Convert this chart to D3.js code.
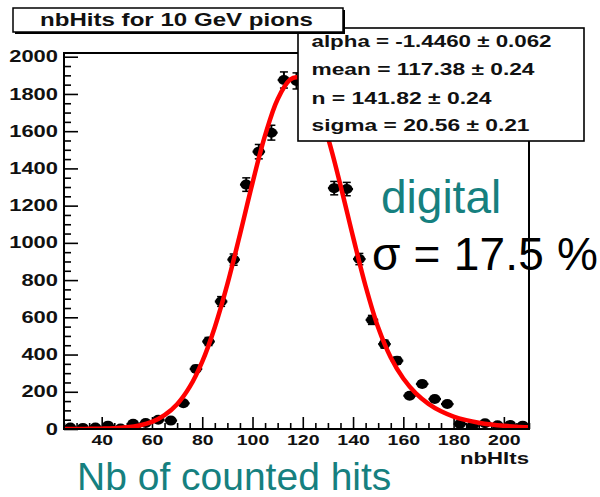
<!DOCTYPE html>
<html>
<head>
<meta charset="utf-8">
<script src="https://cdn.jsdelivr.net/npm/d3@7"></script>
<style>
  html, body { margin: 0; padding: 0; background: #fff; }
  svg { display: block; }
  text { font-family: "Liberation Sans", Arial, sans-serif; }
</style>
</head>
<body>
<svg id="chart" width="600" height="497"></svg>
<script>
// ---------------- data ----------------
const title = "nbHits for 10 GeV pions";
const xAxisLabel = "nbHIts";
const binCenters = [27.5, 32.5, 37.5, 42.5, 47.5, 52.5, 57.5, 62.5, 67.5, 72.5,
  77.5, 82.5, 87.5, 92.5, 97.5, 102.5, 107.5, 112.5, 117.5, 122.5,
  127.5, 132.5, 137.5, 142.5, 147.5, 152.5, 157.5, 162.5, 167.5, 172.5,
  177.5, 182.5, 187.5, 192.5, 197.5, 202.5, 207.5];
const counts = [8, 6, 8, 18, 3, 28, 32, 50, 45, 138,
  323, 470, 685, 910, 1313, 1490, 1592, 1875, 1870, 1860,
  1700, 1294, 1289, 913, 586, 456, 367, 179, 242, 161,
  134, 27, 16, 31, 20, 22, 18];
const fitX = [25, 30, 35, 40, 45, 50, 55, 60, 65, 70, 75, 80, 85, 90, 95, 100, 105, 110, 115, 117.5,
  120, 125, 130, 135, 140, 145, 150, 155, 160, 165, 170, 175, 180, 185, 190, 195, 200, 205, 210];
const fitY = [0, 0, 1, 2, 4, 9, 19, 38, 74, 133, 226, 362, 547, 778, 1045, 1322, 1577, 1772, 1877, 1890,
  1875, 1765, 1565, 1309, 1032, 767, 545, 384, 271, 191, 135, 95, 67, 48, 34, 24, 17, 12, 9];
const statsLines = ["alpha = -1.4460 \u00b1 0.062", "mean =  117.38 \u00b1 0.24",
  "n =  141.82 \u00b1 0.24", "sigma =  20.56 \u00b1 0.21"];
const xTicksMajor = [40, 60, 80, 100, 120, 140, 160, 180, 200];
const yTicksMajor = [0, 200, 400, 600, 800, 1000, 1200, 1400, 1600, 1800, 2000];
const binWidth = 5;
const annotDigital = "digital";
const annotSigma = "\u03c3 = 17.5 %";
const annotAxis = "Nb of counted hits";

// ---------------- layout ----------------
const svg = d3.select("#chart");
const L = 64, R = 529, T = 53, B = 429;
const x = d3.scaleLinear().domain([25, 210]).range([L, R]);
const y = d3.scaleLinear().domain([0, 2020]).range([B, T]);
const teal = "#16807f";

svg.append("rect").attr("width", 600).attr("height", 497).attr("fill", "#fff");

svg.append("defs").append("clipPath").attr("id", "plotclip")
  .append("rect").attr("x", L).attr("y", T).attr("width", R - L).attr("height", B - T);

// minor ticks
const xMinor = d3.range(25, 211, 5).filter(v => xTicksMajor.indexOf(v) < 0);
const yMinor = d3.range(0, 2001, 50).filter(v => yTicksMajor.indexOf(v) < 0);

const gxMinor = svg.append("g").attr("transform", `translate(0,${B})`)
  .call(d3.axisBottom(x).tickValues(xMinor).tickSize(-6).tickFormat(""));
const gx = svg.append("g").attr("transform", `translate(0,${B})`)
  .call(d3.axisBottom(x).tickValues(xTicksMajor).tickSize(-12).tickPadding(5.5).tickFormat(d3.format("d")));
const gyMinor = svg.append("g").attr("transform", `translate(${L},0)`)
  .call(d3.axisLeft(y).tickValues(yMinor).tickSize(-7).tickFormat(""));
const gy = svg.append("g").attr("transform", `translate(${L},0)`)
  .call(d3.axisLeft(y).tickValues(yTicksMajor).tickSize(-14).tickPadding(4.4).tickFormat(d3.format("d")));

[gxMinor, gx, gyMinor, gy].forEach(g => {
  g.select(".domain").remove();
  g.selectAll("line").attr("stroke", "#000").attr("stroke-width", 1.6);
});
gx.selectAll("text").attr("font-size", 15).attr("font-weight", "bold").attr("fill", "#111")
  .attr("font-family", "Liberation Sans, Arial, sans-serif")
  .attr("transform", "scale(1.3,1)");
gy.selectAll("text").attr("font-size", 16).attr("font-weight", "bold").attr("fill", "#111")
  .attr("font-family", "Liberation Sans, Arial, sans-serif")
  .attr("transform", "scale(1.37,1)");

// data points with error bars
const pts = svg.append("g").attr("clip-path", "url(#plotclip)");
const data = binCenters.map((c, i) => ({ c, v: counts[i] }));
const pg = pts.selectAll("g.pt").data(data).join("g").attr("class", "pt");
pg.append("line")
  .attr("x1", d => x(d.c - binWidth / 2)).attr("x2", d => x(d.c + binWidth / 2))
  .attr("y1", d => y(d.v)).attr("y2", d => y(d.v))
  .attr("stroke", "#000").attr("stroke-width", 2.2);
pg.append("line")
  .attr("x1", d => x(d.c)).attr("x2", d => x(d.c))
  .attr("y1", d => y(d.v + Math.sqrt(d.v))).attr("y2", d => y(d.v - Math.sqrt(d.v)))
  .attr("stroke", "#000").attr("stroke-width", 2);
pg.filter(d => d.v > 100).append("line")
  .attr("x1", d => x(d.c) - 4).attr("x2", d => x(d.c) + 4)
  .attr("y1", d => y(d.v + Math.sqrt(d.v))).attr("y2", d => y(d.v + Math.sqrt(d.v)))
  .attr("stroke", "#000").attr("stroke-width", 1.5);
pg.filter(d => d.v > 100).append("line")
  .attr("x1", d => x(d.c) - 4).attr("x2", d => x(d.c) + 4)
  .attr("y1", d => y(d.v - Math.sqrt(d.v))).attr("y2", d => y(d.v - Math.sqrt(d.v)))
  .attr("stroke", "#000").attr("stroke-width", 1.5);
pg.append("ellipse")
  .attr("cx", d => x(d.c)).attr("cy", d => y(d.v))
  .attr("rx", 5.8).attr("ry", 5).attr("fill", "#000");

// fit curve
const fitData = fitX.map((v, i) => [v, fitY[i]]);
svg.append("path").datum(fitData)
  .attr("clip-path", "url(#plotclip)")
  .attr("d", d3.line().x(d => x(d[0])).y(d => y(d[1])).curve(d3.curveCatmullRom.alpha(0.5)))
  .attr("fill", "none").attr("stroke", "#ff0000").attr("stroke-width", 4.5);

// frame
svg.append("rect").attr("x", L).attr("y", T).attr("width", R - L).attr("height", B - T)
  .attr("fill", "none").attr("stroke", "#000").attr("stroke-width", 2);

// x axis title
svg.append("text").attr("transform", `translate(${R},464) scale(1.386,1)`)
  .attr("text-anchor", "end").attr("font-size", 16).attr("font-weight", "bold").attr("fill", "#111")
  .text(xAxisLabel);

// stats box
svg.append("rect").attr("x", 298).attr("y", 28).attr("width", 286).attr("height", 113)
  .attr("fill", "#fff").attr("stroke", "#000").attr("stroke-width", 1.6);
const statsBase = [47, 75, 103.5, 130.5];
const statsLen = [240, 223, 180, 218];
statsLines.forEach((s, i) => {
  svg.append("text").attr("x", 311.5).attr("y", statsBase[i])
    .attr("font-size", 16).attr("font-weight", "bold").attr("fill", "#111")
    .attr("textLength", statsLen[i]).attr("lengthAdjust", "spacingAndGlyphs")
    .text(s);
});

// title box
svg.append("rect").attr("x", 15).attr("y", 10).attr("width", 330).attr("height", 24).attr("fill", "#000");
svg.append("rect").attr("x", 13).attr("y", 8).attr("width", 330).attr("height", 24)
  .attr("fill", "#fff").attr("stroke", "#000").attr("stroke-width", 1.5);
svg.append("text").attr("x", 40).attr("y", 26)
  .attr("font-size", 18).attr("font-weight", "bold").attr("fill", "#111")
  .attr("textLength", 273).attr("lengthAdjust", "spacingAndGlyphs")
  .text(title);

// slide annotations
svg.append("text").attr("x", 381).attr("y", 213).attr("font-size", 46).attr("fill", teal).text(annotDigital);
svg.append("text").attr("x", 372).attr("y", 270).attr("font-size", 46).attr("fill", "#000")
  .attr("textLength", 226).attr("lengthAdjust", "spacing").text(annotSigma);
svg.append("text").attr("x", 77).attr("y", 490).attr("font-size", 39).attr("fill", teal).text(annotAxis);
</script>
</body>
</html>
